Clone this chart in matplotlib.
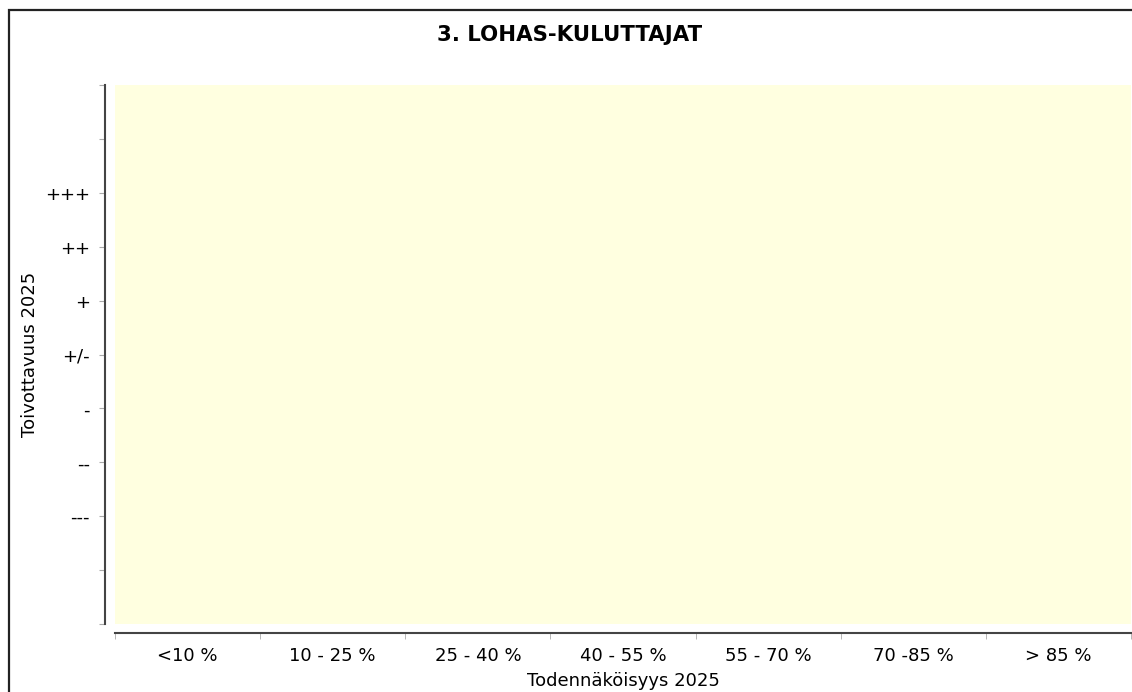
import matplotlib
matplotlib.use('Agg')
import matplotlib.pyplot as plt
from matplotlib.patches import Rectangle

title = '3. LOHAS-KULUTTAJAT'
x_categories = ['<10 %', '10 - 25 %', '25 - 40 %', '40 - 55 %', '55 - 70 %', '70 -85 %', '> 85 %']
y_levels = [-5, -4, -3, -2, -1, 0, 1, 2, 3, 4, 5]
y_labels = ['', '', '---', '--', '-', '+/-', '+', '++', '+++', '', '']
x_title = 'Todennäköisyys 2025'
y_title = 'Toivottavuus 2025'

W, H = 1132, 692
fig = plt.figure(figsize=(W / 100, H / 100), dpi=100)

# outer frame (right and bottom edges run off the image)
fig.patches.append(Rectangle((9 / W, -0.1), 1.2, (H - 10) / H + 0.1,
                             transform=fig.transFigure, fill=False,
                             edgecolor='#222222', linewidth=1.6))

ax = fig.add_axes([115 / W, (H - 624) / H, (1131 - 115) / W, 539 / H])
ax.set_facecolor('#ffffe0')
ax.set_xlim(0, len(x_categories))
ax.set_ylim(y_levels[0], y_levels[-1])

for side in ['top', 'right']:
    ax.spines[side].set_visible(False)
ax.spines['left'].set_position(('outward', 7))
ax.spines['bottom'].set_position(('outward', 6.5))
for side in ['left', 'bottom']:
    ax.spines[side].set_color('#444444')
    ax.spines[side].set_linewidth(1.5)

ax.set_yticks(y_levels)
ax.set_yticklabels(y_labels)
ax.tick_params(axis='y', length=4, color='#aaaaaa', labelsize=13, pad=7)

ax.set_xticks(range(len(x_categories) + 1), minor=True)
ax.set_xticks([i + 0.5 for i in range(len(x_categories))])
ax.set_xticklabels(x_categories)
ax.tick_params(axis='x', which='major', length=0, labelsize=13, pad=10)
ax.tick_params(axis='x', which='minor', length=4, color='#aaaaaa')

ax.set_xlabel(x_title, fontsize=13, labelpad=5)
ax.set_ylabel(y_title, fontsize=13, labelpad=4)

fig.text(570 / W, 1 - 35 / H, title, ha='center', va='center',
         fontsize=15.3, fontweight='bold')

fig.savefig('out.png', dpi=100)
